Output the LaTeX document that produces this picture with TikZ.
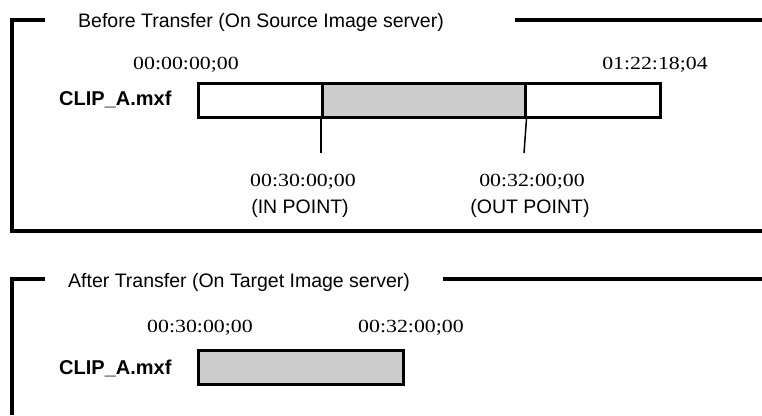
\documentclass[tikz,border=0pt]{standalone}
\usepackage{fontspec}
\setmainfont{Liberation Serif}
\setsansfont{Liberation Sans}
\usepackage{tikz}
\usetikzlibrary{positioning}
\definecolor{clipgray}{RGB}{204,204,204}
\newcommand{\tcode}[1]{\scalebox{1.18}[1]{#1}}

\begin{document}
\begin{tikzpicture}[x=1pt, y=-1pt,
	frame/.style={line width=3.2pt},
	bar/.style={draw=black, line width=2.5pt, minimum height=34pt,
		inner sep=0pt, anchor=north west},
	tc/.style={font=\fontsize{18.5}{20}\selectfont},
	lbl/.style={font=\sffamily\fontsize{19.5}{21}\selectfont, inner sep=0pt},
	file/.style={font=\sffamily\bfseries\fontsize{20}{22}\selectfont, inner sep=0pt, anchor=west},
	tick/.style={line width=1.5pt}
	]
	\useasboundingbox (0,0) rectangle (762,415);
	% Trước khi chuyển: khung trên
	\draw[frame] (45,20) -- (12,20) -- (12,231) -- (762,231);
	\draw[frame] (515,20) -- (762,20);
	\node[lbl, anchor=west] (before) at (78,22) {Before Transfer (On Source Image server)};
	\node[tc] (srcstart) at (186,65) {\tcode{00:00:00;00}};
	\node[tc] (srcend)   at (655,65) {\tcode{01:22:18;04}};
	\node[file] (srcfile) at (59,99) {CLIP\_A.mxf};
	\node[bar, minimum width=462pt] (srcbar) at (197,82) {};
	\node[bar, fill=clipgray, minimum width=203pt] (srcclip) at (321,82) {}; % đoạn được chọn
	\coordinate (intick)  at (321,153);
	\coordinate (outtick) at (524,153);
	\draw[tick] (srcclip.south west) -- (intick);
	\draw[tick] (srcclip.south east) -- (outtick);
	\node[tc]  (intc)   at (303,182) {\tcode{00:30:00;00}};
	\node[lbl] (inlbl)  at (300,208) {(IN POINT)};
	\node[tc]  (outtc)  at (532,182) {\tcode{00:32:00;00}};
	\node[lbl] (outlbl) at (530,208) {(OUT POINT)};
	% Sau khi chuyển: khung dưới
	\draw[frame] (45,279) -- (12,279) -- (12,415);
	\draw[frame] (443,279) -- (762,279);
	\node[lbl, anchor=west] (after) at (68,282) {After Transfer (On Target Image server)};
	\node[tc] (dststart) at (200,328) {\tcode{00:30:00;00}};
	\node[tc] (dstend)   at (411,328) {\tcode{00:32:00;00}};
	\node[file] (dstfile) at (59,368) {CLIP\_A.mxf};
	\node[bar, fill=clipgray, minimum width=205pt] (dstclip) at (197,349) {};
\end{tikzpicture}
\end{document}
